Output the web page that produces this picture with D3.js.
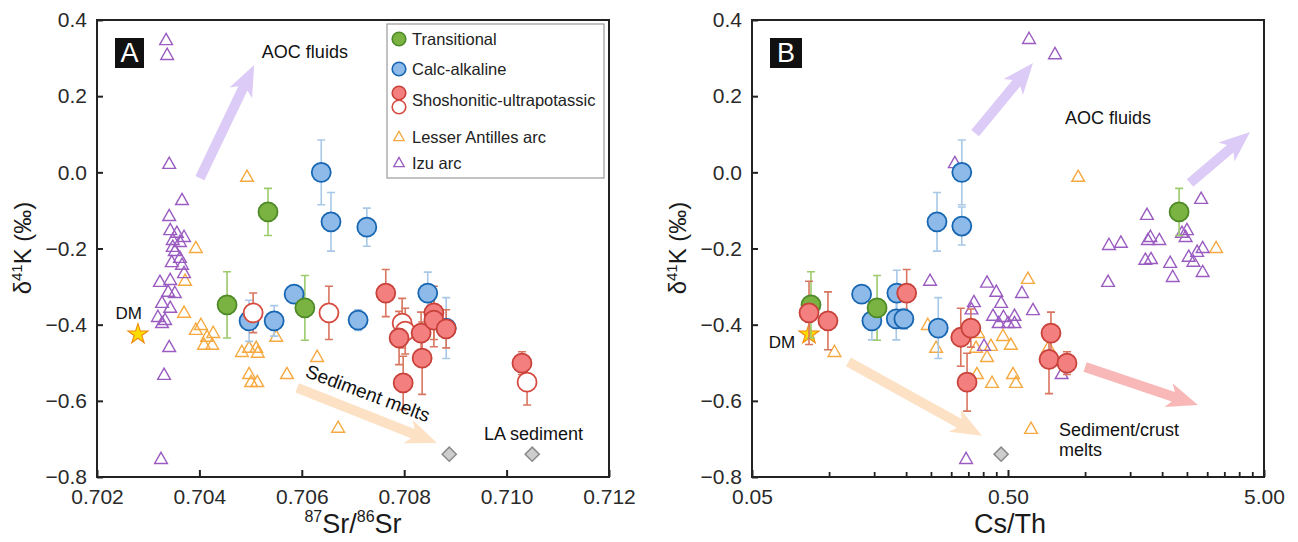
<!DOCTYPE html>
<html>
<head>
<meta charset="utf-8">
<script src="https://cdn.jsdelivr.net/npm/d3@7"></script>
<style>
  body { margin: 0; background: #fff; }
  svg { display: block; }
  text { font-family: "Liberation Sans", Arial, sans-serif; }
</style>
</head>
<body>
<svg id="chart" width="1298" height="542"></svg>
<script>
// ---- panel A: d41K vs 87Sr/86Sr   [x, y, err]
const transA = [[0.70534, -0.104, 0.062], [0.70454, -0.348, 0.087], [0.70606, -0.356, 0.085]];
const calcA = [[0.70638, 0.000, 0.085], [0.70657, -0.130, 0.077], [0.70727, -0.144, 0.050], [0.70497, -0.390, 0.054],
  [0.70546, -0.390, 0.040], [0.70585, -0.320, 0.020], [0.70710, -0.388, 0.027], [0.70846, -0.317, 0.055], [0.70882, -0.409, 0.080]];
const shoshOpenA = [[0.70505, -0.369, 0.052], [0.70653, -0.369, 0.070], [0.70796, -0.396, 0.065], [0.70802, -0.417, 0.060], [0.71040, -0.551, 0.060]];
const shoshA = [[0.70764, -0.317, 0.062], [0.70790, -0.435, 0.070], [0.70798, -0.553, 0.070], [0.70833, -0.422, 0.055], [0.70835, -0.488, 0.095],
  [0.70858, -0.369, 0.070], [0.70858, -0.388, 0.070], [0.70882, -0.411, 0.050], [0.71030, -0.501, 0.030]];
const lesserA = [[0.70493, -0.012], [0.70393, -0.199], [0.70372, -0.285], [0.70370, -0.369], [0.70393, -0.414], [0.70403, -0.401],
  [0.70415, -0.432], [0.70427, -0.422], [0.70409, -0.453], [0.70425, -0.453], [0.70483, -0.472], [0.70497, -0.461], [0.70511, -0.461],
  [0.70514, -0.474], [0.70550, -0.432], [0.70497, -0.530], [0.70501, -0.551], [0.70513, -0.551], [0.70571, -0.530], [0.70630, -0.485], [0.70671, -0.671]];
const izuA = [[0.70335, 0.347], [0.70337, 0.308], [0.70341, 0.022], [0.70366, -0.073], [0.70341, -0.115], [0.70343, -0.152], [0.70356, -0.159],
  [0.70370, -0.170], [0.70348, -0.178], [0.70362, -0.183], [0.70348, -0.196], [0.70352, -0.207], [0.70362, -0.225], [0.70346, -0.236],
  [0.70366, -0.243], [0.70370, -0.265], [0.70323, -0.288], [0.70343, -0.283], [0.70339, -0.314], [0.70352, -0.317], [0.70327, -0.343],
  [0.70343, -0.356], [0.70319, -0.380], [0.70333, -0.388], [0.70327, -0.396], [0.70341, -0.459], [0.70331, -0.532], [0.70325, -0.753]];
const sedA = [[0.70888, -0.740], [0.71050, -0.740]];
const dmA = [[0.70280, -0.425]];

// ---- panel B: d41K vs Cs/Th
const transB = [[0.085, -0.348, 0.087], [0.154, -0.356, 0.085], [2.33, -0.104, 0.062]];
const calcB = [[0.330, 0.000, 0.085], [0.264, -0.130, 0.077], [0.330, -0.141, 0.050], [0.134, -0.320, 0.020], [0.184, -0.317, 0.060],
  [0.147, -0.390, 0.050], [0.183, -0.385, 0.055], [0.196, -0.385, 0.027], [0.267, -0.409, 0.080]];
const shoshB = [[0.0835, -0.369, 0.083], [0.099, -0.390, 0.076], [0.201, -0.317, 0.062], [0.327, -0.433, 0.076], [0.358, -0.409, 0.050],
  [0.346, -0.551, 0.076], [0.736, -0.422, 0.055], [0.723, -0.491, 0.090], [0.850, -0.501, 0.030]];
const lesserB = [[0.105, -0.472], [0.243, -0.401], [0.262, -0.461], [0.598, -0.280], [0.382, -0.422], [0.375, -0.461], [0.378, -0.530],
  [0.414, -0.485], [0.429, -0.456], [0.478, -0.430], [0.513, -0.453], [0.433, -0.553], [0.523, -0.530], [0.537, -0.553], [0.615, -0.674],
  [0.720, -0.460], [0.940, -0.012], [3.25, -0.199]];
const izuB = [[0.604, 0.350], [0.763, 0.310], [0.310, 0.024], [2.84, -0.070], [1.745, -0.112], [1.24, -0.191], [1.38, -0.185], [1.76, -0.178],
  [1.80, -0.170], [1.95, -0.178], [2.39, -0.159], [2.50, -0.152], [2.47, -0.170], [1.72, -0.230], [1.81, -0.228], [2.15, -0.238],
  [2.54, -0.222], [2.74, -0.209], [2.88, -0.199], [2.65, -0.235], [2.88, -0.262], [2.20, -0.275], [1.23, -0.288], [0.248, -0.285],
  [0.414, -0.290], [0.450, -0.314], [0.567, -0.317], [0.368, -0.341], [0.470, -0.343], [0.360, -0.360], [0.437, -0.377], [0.480, -0.380],
  [0.530, -0.377], [0.460, -0.396], [0.500, -0.396], [0.530, -0.396], [0.626, -0.362], [0.403, -0.456], [0.810, -0.530], [0.343, -0.753]];
const sedB = [[0.470, -0.740]];
const dmB = [[0.0835, -0.425]];

// arrows [x1, y1, x2, y2, kind]
const arrowsA = [[0.70401, -0.015, 0.70507, 0.282, "aoc"], [0.70591, -0.566, 0.70864, -0.711, "sed"]];
const arrowsB = [[0.372, 0.103, 0.626, 0.287, "aoc"], [2.57, -0.028, 4.41, 0.106, "aoc"],
  [0.119, -0.498, 0.396, -0.692, "sed"], [1.00, -0.511, 2.76, -0.611, "crust"]];

// tick values / labels
const yTicks = [-0.8, -0.6, -0.4, -0.2, 0.0, 0.2, 0.4];
const xTicksA = [0.702, 0.704, 0.706, 0.708, 0.710, 0.712];
const xTicksB = [0.05, 0.5, 5];
const xTickLabelsB = ["0.05", "0.50", "5.00"];
const xMinorB = [0.1, 0.15, 0.2, 0.25, 0.3, 0.35, 0.4, 0.45, 1, 1.5, 2, 2.5, 3, 3.5, 4, 4.5];

const col = {
  trans: { fill: "#7bb342", stroke: "#4e8a28", err: "#9ccb6c" },
  calc: { fill: "#8dbae8", stroke: "#1766b2", err: "#a8c8e8" },
  shosh: { fill: "#f47f7f", stroke: "#c8413a", err: "#d8765f" },
  open: { fill: "#fff", stroke: "#d64b40", err: "#d8765f" },
  lesser: "#f5a940", izu: "#9a5cc0",
  arrow: { aoc: "#dccbf6", sed: "#fde1c4", crust: "#f9b8b8" }
};

const svg = d3.select("#chart");
const y = d3.scaleLinear().domain([-0.8, 0.4]).range([477, 20]);
const xA = d3.scaleLinear().domain([0.702, 0.712]).range([97, 609]);
const xB = d3.scaleLog().domain([0.05, 5]).range([752, 1264]);

function triPath(s) {
  return `M0,${-s * 0.62}L${s * 0.58},${s * 0.4}L${-s * 0.58},${s * 0.4}Z`;
}

function arrowPath(x1, y1, x2, y2) {
  const sw = 10, hw = 25, hl = 26;
  const dx = x2 - x1, dy = y2 - y1, L = Math.hypot(dx, dy);
  const ux = dx / L, uy = dy / L, px = -uy, py = ux;
  const b = L - hl;
  const pts = [[0, -sw / 2], [b, -sw / 2], [b - 5, -hw / 2], [L, 0], [b - 5, hw / 2], [b, sw / 2], [0, sw / 2]];
  return "M" + pts.map(p => [x1 + ux * p[0] + px * p[1], y1 + uy * p[0] + py * p[1]].join(",")).join("L") + "Z";
}

function drawPanel(x, d) {
  const g = svg.append("g");
  const [x0, x1] = x.range();

  // arrows
  g.selectAll(".arr").data(d.arrows).join("path")
    .attr("d", a => arrowPath(x(a[0]), y(a[1]), x(a[2]), y(a[3])))
    .attr("fill", a => col.arrow[a[4]]);

  // triangles
  [[d.lesser, col.lesser], [d.izu, col.izu]].forEach(([pts, c]) => {
    g.append("g").selectAll("path").data(pts).join("path")
      .attr("transform", p => `translate(${x(p[0])},${y(p[1])})`)
      .attr("d", triPath(11))
      .attr("fill", "none").attr("stroke", c).attr("stroke-width", 1.4);
  });

  // sediment diamonds
  g.append("g").selectAll("path").data(d.sed).join("path")
    .attr("transform", p => `translate(${x(p[0])},${y(p[1])}) rotate(45)`)
    .attr("d", "M-5,-5H5V5H-5Z")
    .attr("fill", "#cdcdcd").attr("stroke", "#8a8a8a").attr("stroke-width", 1.5);

  // DM star
  g.append("g").selectAll("path").data(d.dm).join("path")
    .attr("transform", p => `translate(${x(p[0])},${y(p[1])})`)
    .attr("d", d3.symbol(d3.symbolStar, 125))
    .attr("fill", "#ffdc00").attr("stroke", "#ee8a10").attr("stroke-width", 1.1);

  // error bars
  d.circles.forEach(([pts, c]) => {
    const eg = g.append("g").attr("stroke", c.err).attr("stroke-width", 1.6).attr("fill", "none");
    pts.forEach(p => {
      const cx = x(p[0]), ya = y(p[1] + p[2]), yb = y(p[1] - p[2]);
      eg.append("path").attr("d", `M${cx},${ya}V${yb}M${cx - 4},${ya}H${cx + 4}M${cx - 4},${yb}H${cx + 4}`);
    });
  });
  // circles
  d.circles.forEach(([pts, c]) => {
    g.append("g").selectAll("circle").data(pts).join("circle")
      .attr("cx", p => x(p[0])).attr("cy", p => y(p[1])).attr("r", 9.5)
      .attr("fill", c.fill).attr("stroke", c.stroke).attr("stroke-width", 1.8);
  });

  // frame
  g.append("rect").attr("x", x0).attr("y", 20).attr("width", x1 - x0).attr("height", 457)
    .attr("fill", "none").attr("stroke", "#222").attr("stroke-width", 2);

  // axes
  const ya = g.append("g").attr("transform", `translate(${x0},0)`)
    .call(d3.axisLeft(y).tickValues(yTicks).tickSize(-6).tickPadding(10).tickFormat(d3.format(".1f")));
  ya.select(".domain").remove();
  ya.selectAll("line").attr("stroke", "#222").attr("stroke-width", 2);
  ya.selectAll("text").attr("font-size", 21).attr("fill", "#2a2a2a").attr("font-family", "Liberation Sans, Arial");

  const xa = g.append("g").attr("transform", "translate(0,477)")
    .call(d3.axisBottom(x).tickValues(d.xTicks).tickSize(-7).tickPadding(12).tickFormat((v, i) => d.xLabels[i]));
  xa.select(".domain").remove();
  xa.selectAll("line").attr("stroke", "#222").attr("stroke-width", 2);
  xa.selectAll("text").attr("font-size", 21).attr("fill", "#2a2a2a").attr("font-family", "Liberation Sans, Arial");
  if (d.minor) {
    const xm = g.append("g").attr("transform", "translate(0,477)")
      .call(d3.axisBottom(x).tickValues(d.minor).tickSize(-5).tickFormat(""));
    xm.select(".domain").remove();
    xm.selectAll("line").attr("stroke", "#222").attr("stroke-width", 1.8);
  }

  // y title
  const yt = g.append("text").attr("transform", `translate(${x0 - 66},248) rotate(-90)`)
    .attr("text-anchor", "middle").attr("font-size", 24).attr("fill", "#1a1a1a");
  yt.append("tspan").text("δ");
  yt.append("tspan").attr("font-size", 15).attr("dy", -9).text("41");
  yt.append("tspan").attr("dy", 9).text("K (‰)");

  // panel letter
  g.append("rect").attr("x", x0 + 18).attr("y", 38).attr("width", d.letter === "A" ? 29 : 32).attr("height", 30).attr("fill", "#111");
  g.append("text").attr("x", x0 + 18 + (d.letter === "A" ? 14.5 : 16)).attr("y", 62).attr("text-anchor", "middle")
    .attr("font-size", 27).attr("fill", "#fff").text(d.letter);

  return g;
}

function annot(g, x, xv, yv, txt, anchor, size, rot) {
  const t = g.append("text").attr("x", x(xv)).attr("y", y(yv)).attr("dy", "0.35em")
    .attr("text-anchor", anchor).attr("font-size", size).attr("fill", "#111").text(txt);
  if (rot) t.attr("transform", `rotate(${rot},${x(xv)},${y(yv)})`);
  return t;
}

// ---- panel A
const gA = drawPanel(xA, {
  letter: "A", arrows: arrowsA, lesser: lesserA, izu: izuA, sed: sedA, dm: dmA,
  circles: [[calcA, col.calc], [transA, col.trans], [shoshOpenA, col.open], [shoshA, col.shosh]],
  xTicks: xTicksA, xLabels: xTicksA.map(d3.format(".3f"))
});
annot(gA, xA, 0.70522, 0.316, "AOC fluids", "start", 18);
annot(gA, xA, 0.70262, -0.369, "DM", "middle", 17);
annot(gA, xA, 0.70956, -0.687, "LA sediment", "start", 18);
annot(gA, xA, 0.70729, -0.580, "Sediment melts", "middle", 19, 20.5);

const xtA = gA.append("text").attr("x", 353).attr("y", 533).attr("text-anchor", "middle").attr("font-size", 27).attr("fill", "#1a1a1a");
xtA.append("tspan").attr("font-size", 16).attr("dy", -11).text("87");
xtA.append("tspan").attr("dy", 11).text("Sr/");
xtA.append("tspan").attr("font-size", 16).attr("dy", -11).text("86");
xtA.append("tspan").attr("dy", 11).text("Sr");

// legend (panel A)
const lg = gA.append("g");
lg.append("rect").attr("x", 387).attr("y", 24).attr("width", 217).attr("height", 154)
  .attr("fill", "#fff").attr("stroke", "#9a9a9a").attr("stroke-width", 1.2);
const legItems = [
  { label: "Transitional", y: 39, c: [col.trans] },
  { label: "Calc-alkaline", y: 69, c: [col.calc] },
  { label: "Shoshonitic-ultrapotassic", y: 100, c: [col.shosh, col.open] },
  { label: "Lesser Antilles arc", y: 137, tri: col.lesser },
  { label: "Izu arc", y: 163, tri: col.izu }
];
legItems.forEach(it => {
  if (it.c) {
    it.c.forEach((c, i) => {
      const cy = it.c.length === 1 ? it.y : it.y - 7 + i * 14;
      lg.append("circle").attr("cx", 399).attr("cy", cy).attr("r", 6.8)
        .attr("fill", c.fill).attr("stroke", c.stroke).attr("stroke-width", 1.6);
    });
  } else {
    lg.append("path").attr("transform", `translate(399,${it.y})`).attr("d", triPath(9))
      .attr("fill", "none").attr("stroke", it.tri).attr("stroke-width", 1.3);
  }
  lg.append("text").attr("x", 412).attr("y", it.y).attr("dy", "0.35em").attr("font-size", 16.5)
    .attr("fill", "#222").text(it.label);
});

// ---- panel B
const gB = drawPanel(xB, {
  letter: "B", arrows: arrowsB, lesser: lesserB, izu: izuB, sed: sedB, dm: dmB,
  circles: [[calcB, col.calc], [transB, col.trans], [shoshB, col.shosh]],
  xTicks: xTicksB, xLabels: xTickLabelsB, minor: xMinorB
});
annot(gB, xB, 0.835, 0.143, "AOC fluids", "start", 18);
annot(gB, xB, 0.0655, -0.446, "DM", "middle", 17);
annot(gB, xB, 0.791, -0.677, "Sediment/crust", "start", 18);
annot(gB, xB, 0.791, -0.729, "melts", "start", 18);
gB.append("text").attr("x", 1010).attr("y", 533).attr("text-anchor", "middle").attr("font-size", 27)
  .attr("fill", "#1a1a1a").text("Cs/Th");
</script>
</body>
</html>
